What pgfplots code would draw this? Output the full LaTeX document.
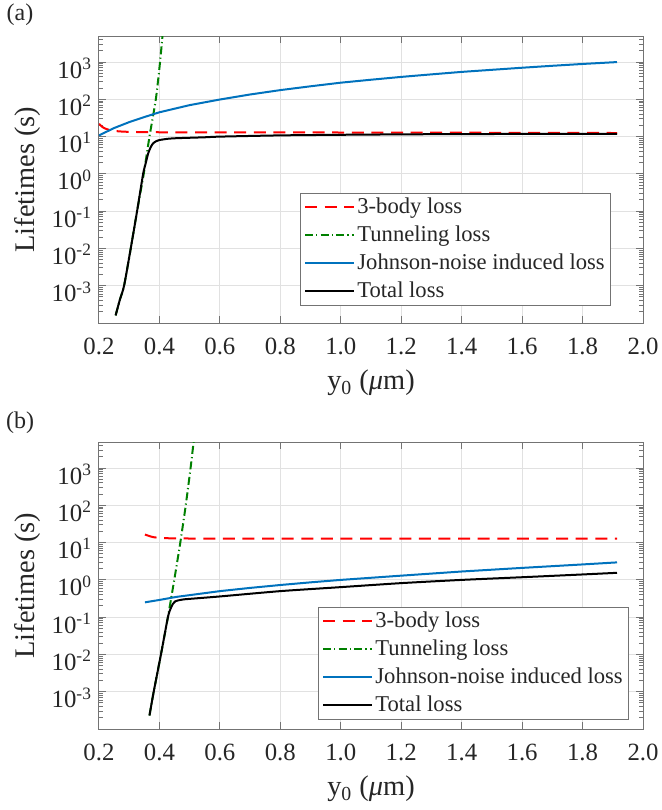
\documentclass[border=0pt]{standalone}
\usepackage{fontspec}
\setmainfont{Liberation Serif}
\usepackage{pgfplots}
\pgfplotsset{compat=1.18}
\definecolor{mblue}{RGB}{0,114,189}
\definecolor{mgreen}{RGB}{0,128,0}
\definecolor{mred}{RGB}{255,0,0}
\definecolor{axgray}{RGB}{115,115,115}
\definecolor{gridgray}{RGB}{225,225,225}
\definecolor{txt}{RGB}{38,38,38}
\begin{document}
\begin{tikzpicture}
\useasboundingbox (0,0) rectangle (330.5pt,-405pt);
\node[font=\fontsize{12}{14}\selectfont, text=txt] at (10pt,-7.5pt) {(a)};
\node[font=\fontsize{12}{14}\selectfont, text=txt] at (10pt,-211.5pt) {(b)};
% ---------------- panel (a)
\begin{axis}[at={(49.5pt,-161.5pt)}, anchor=south west,
    scale only axis, width=272pt, height=143.5pt,
    ymode=log, xmin=0.2, xmax=2.0, ymin=1e-4, ymax=5000,
    xtick={0.2,0.4,0.6,0.8,1.0,1.2,1.4,1.6,1.8,2.0},
    xticklabels={0.2,0.4,0.6,0.8,1.0,1.2,1.4,1.6,1.8,2.0},
    ytick={1e-3,1e-2,1e-1,1,10,100,1000},
    yticklabels={10\textsuperscript{-3},10\textsuperscript{-2},10\textsuperscript{-1},10\textsuperscript{0},10\textsuperscript{1},10\textsuperscript{2},10\textsuperscript{3}},
    minor ytick={2e-4,3e-4,4e-4,5e-4,6e-4,7e-4,8e-4,9e-4,
                 2e-3,3e-3,4e-3,5e-3,6e-3,7e-3,8e-3,9e-3,
                 2e-2,3e-2,4e-2,5e-2,6e-2,7e-2,8e-2,9e-2,
                 0.2,0.3,0.4,0.5,0.6,0.7,0.8,0.9,
                 2,3,4,5,6,7,8,9,20,30,40,50,60,70,80,90,
                 200,300,400,500,600,700,800,900,2000,3000,4000},
    tick align=inside, tick pos=both,
    major tick length=3.5pt, minor tick length=2pt,
    xmajorgrids, ymajorgrids,
    major grid style={gridgray, line width=0.5pt},
    axis line style={axgray, line width=0.5pt},
    tick style={axgray, line width=0.5pt},
    tick label style={font=\fontsize{12.4}{14}\selectfont, text=txt},
    xticklabel style={yshift=-4pt},
    yticklabel style={yshift=-3pt},
    label style={font=\fontsize{14.2}{16}\selectfont, text=txt},
    xlabel={y\textsubscript{0} ({\itshape μ}m)},
    ylabel={Lifetimes (s)},
    xlabel style={at={(axis description cs:0.5,-0.209)}, anchor=center},
    ylabel style={at={(axis description cs:-0.1305,0.5)}, anchor=center},
    legend cell align=left,
    legend image code/.code={\draw[#1] (0pt,0pt) -- (24.7pt,0pt);},
    legend style={font=\fontsize{11.3}{13}\selectfont, text=txt, draw=axgray,
      inner xsep=1.8pt, inner ysep=0pt,
      nodes={inner xsep=1pt, inner ysep=1.5pt, text height=8.5pt, text depth=2.5pt},
      at={(0.3695,0.453)}, anchor=north west}]
\addplot[mred, line width=1pt, dash pattern=on 6pt off 3.8pt, smooth, tension=0.4] coordinates {
 (0.200,22) (0.210,18.5) (0.220,16.5) (0.230,15.5) (0.250,14.3) (0.280,13.6)
 (0.350,13.2) (0.500,13.0) (1.000,12.9) (1.500,12.7) (1.914,12.5)};
\addlegendentry{3-body loss}
\addplot[mgreen, line width=1pt, dash pattern=on 4pt off 1.6pt on 0.6pt off 1.6pt, smooth, tension=0.4] coordinates {
 (0.255,1.6e-4) (0.269,4.2e-4) (0.283,1e-3) (0.305,1e-2) (0.326,0.1) (0.348,1)
 (0.367,10) (0.388,100) (0.402,1000) (0.410,5000)};
\addlegendentry{Tunneling loss}
\addplot[mblue, line width=1pt] coordinates {
 (0.200,10.8) (0.250,17) (0.300,24.5) (0.350,33.5) (0.400,45) (0.500,70)
 (0.600,99) (0.700,135) (0.800,177) (0.900,224) (1.000,280) (1.100,336)
 (1.200,400) (1.300,468) (1.400,545) (1.500,620) (1.600,705) (1.700,795)
 (1.800,890) (1.914,1000)};
\addlegendentry{Johnson-noise induced loss}
\addplot[black, line width=1pt, smooth, tension=0.4] coordinates {
 (0.255,1.6e-4) (0.269,4.2e-4) (0.283,1e-3) (0.305,1e-2) (0.326,0.1) (0.346,1)
 (0.355,2.0) (0.363,3.6) (0.371,5.2) (0.379,6.6) (0.390,7.6) (0.400,8.1)
 (0.430,8.8) (0.460,9.1) (0.550,9.6) (0.600,10.0) (0.800,10.8) (1.000,11.2)
 (1.200,11.5) (1.400,11.7) (1.600,11.8) (1.914,11.9)};
\addlegendentry{Total loss}
\end{axis}
% ---------------- panel (b)
\begin{axis}[at={(49.5pt,-364.5pt)}, anchor=south west,
    scale only axis, width=272pt, height=143.5pt,
    ymode=log, xmin=0.2, xmax=2.0, ymin=1e-4, ymax=5000,
    xtick={0.2,0.4,0.6,0.8,1.0,1.2,1.4,1.6,1.8,2.0},
    xticklabels={0.2,0.4,0.6,0.8,1.0,1.2,1.4,1.6,1.8,2.0},
    ytick={1e-3,1e-2,1e-1,1,10,100,1000},
    yticklabels={10\textsuperscript{-3},10\textsuperscript{-2},10\textsuperscript{-1},10\textsuperscript{0},10\textsuperscript{1},10\textsuperscript{2},10\textsuperscript{3}},
    minor ytick={2e-4,3e-4,4e-4,5e-4,6e-4,7e-4,8e-4,9e-4,
                 2e-3,3e-3,4e-3,5e-3,6e-3,7e-3,8e-3,9e-3,
                 2e-2,3e-2,4e-2,5e-2,6e-2,7e-2,8e-2,9e-2,
                 0.2,0.3,0.4,0.5,0.6,0.7,0.8,0.9,
                 2,3,4,5,6,7,8,9,20,30,40,50,60,70,80,90,
                 200,300,400,500,600,700,800,900,2000,3000,4000},
    tick align=inside, tick pos=both,
    major tick length=3.5pt, minor tick length=2pt,
    xmajorgrids, ymajorgrids,
    major grid style={gridgray, line width=0.5pt},
    axis line style={axgray, line width=0.5pt},
    tick style={axgray, line width=0.5pt},
    tick label style={font=\fontsize{12.4}{14}\selectfont, text=txt},
    xticklabel style={yshift=-4pt},
    yticklabel style={yshift=-3pt},
    label style={font=\fontsize{14.2}{16}\selectfont, text=txt},
    xlabel={y\textsubscript{0} ({\itshape μ}m)},
    ylabel={Lifetimes (s)},
    xlabel style={at={(axis description cs:0.5,-0.209)}, anchor=center},
    ylabel style={at={(axis description cs:-0.1305,0.5)}, anchor=center},
    legend cell align=left,
    legend image code/.code={\draw[#1] (0pt,0pt) -- (24.7pt,0pt);},
    legend style={font=\fontsize{11.3}{13}\selectfont, text=txt, draw=axgray,
      inner xsep=1.8pt, inner ysep=0pt,
      nodes={inner xsep=1pt, inner ysep=1.5pt, text height=8.5pt, text depth=2.5pt},
      at={(0.4026,0.425)}, anchor=north west}]
\addplot[mred, line width=1pt, dash pattern=on 6pt off 3.8pt, smooth, tension=0.4] coordinates {
 (0.352,16.5) (0.380,14.0) (0.420,13.2) (0.500,12.9) (1.000,12.8) (1.914,12.8)};
\addlegendentry{3-body loss}
\addplot[mgreen, line width=1pt, dash pattern=on 4pt off 1.6pt on 0.6pt off 1.6pt, smooth, tension=0.4] coordinates {
 (0.367,2.3e-4) (0.381,1e-3) (0.405,1e-2) (0.428,0.1) (0.449,1)
 (0.469,10) (0.487,100) (0.503,1000) (0.513,5000)};
\addlegendentry{Tunneling loss}
\addplot[mblue, line width=1pt] coordinates {
 (0.352,0.25) (0.400,0.29) (0.456,0.35) (0.500,0.39) (0.600,0.50) (0.700,0.61)
 (0.800,0.73) (0.900,0.86) (1.000,1.0) (1.200,1.3) (1.400,1.68) (1.600,2.1)
 (1.800,2.6) (1.914,2.95)};
\addlegendentry{Johnson-noise induced loss}
\addplot[black, line width=1pt, smooth, tension=0.4] coordinates {
 (0.367,2.3e-4) (0.381,1e-3) (0.405,1e-2) (0.428,0.1) (0.437,0.17)
 (0.445,0.23) (0.452,0.265) (0.460,0.28) (0.480,0.30) (0.500,0.31)
 (0.600,0.36) (0.800,0.50) (1.000,0.64) (1.200,0.82) (1.400,1.0)
 (1.600,1.18) (1.800,1.40) (1.914,1.55)};
\addlegendentry{Total loss}
\end{axis}
\end{tikzpicture}
\end{document}
